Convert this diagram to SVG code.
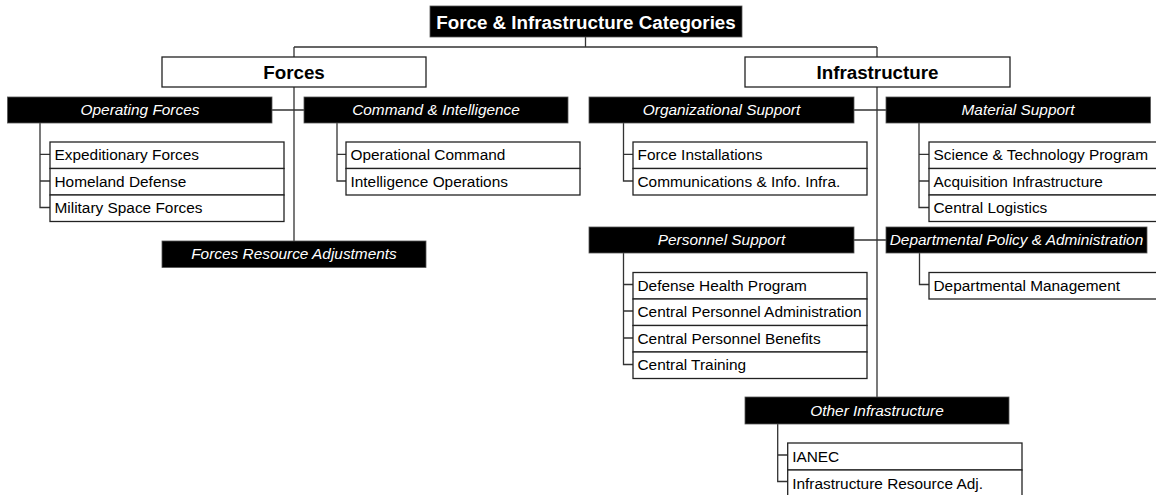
<svg xmlns="http://www.w3.org/2000/svg" width="1156" height="495" viewBox="0 0 1156 495">
<style>
  .bg{fill:#ffffff}
  .blk{fill:#000000;stroke:#555555;stroke-width:0.8}
  .hdr{fill:#ffffff;stroke:#222222;stroke-width:1.3}
  .item{fill:#ffffff;stroke:#222222;stroke-width:1.3}
  .tb{font-family:"Liberation Sans",Arial,sans-serif;font-weight:bold;font-size:18.8px;text-anchor:middle}
  .ti{font-family:"Liberation Sans",Arial,sans-serif;font-style:italic;font-size:15.4px;fill:#ffffff;text-anchor:middle}
  .tr{font-family:"Liberation Sans",Arial,sans-serif;font-size:15.4px;fill:#000000}
  .ln{fill:none;stroke:#333333;stroke-width:1.3}
</style>
<rect class="bg" x="0" y="0" width="1156" height="495"/>

<g id="connectors">
  <path class="ln" d="M585.5,37 V47 M294,47 H877 M294,47 V57 M877,47 V57"/>
  <path class="ln" d="M294,87 V241 M272,110 H304"/>
  <path class="ln" d="M40,123 V207.5 H50 M40,154.3 H50 M40,181 H50"/>
  <path class="ln" d="M337,123 V181 H346 M337,154.3 H346"/>
  <path class="ln" d="M877,87 V397 M854,110 H886 M854,240 H886"/>
  <path class="ln" d="M623.5,123 V181 H633 M623.5,154.3 H633"/>
  <path class="ln" d="M919,123 V207.5 H929 M919,154.3 H929 M919,181 H929"/>
  <path class="ln" d="M623.5,253 V364.5 H633 M623.5,284.5 H633 M623.5,311 H633 M623.5,338 H633"/>
  <path class="ln" d="M919.5,253 V284.5 H929"/>
  <path class="ln" d="M777.7,424 V481.5 H787.7 M777.7,455 H787.7"/>
</g>

<g id="title">
  <rect class="blk" x="430" y="6" width="312" height="31"/>
  <text class="tb" x="586" y="28.5" fill="#ffffff">Force &amp; Infrastructure Categories</text>
</g>

<g id="forces">
  <rect class="hdr" x="162" y="57" width="264" height="30"/>
  <text class="tb" x="294" y="78.5" fill="#000000">Forces</text>
</g>
<g id="infrastructure">
  <rect class="hdr" x="745" y="57" width="265" height="30"/>
  <text class="tb" x="877.5" y="78.5" fill="#000000">Infrastructure</text>
</g>

<g id="operating-forces">
  <rect class="blk" x="7.5" y="97" width="264.5" height="26"/>
  <text class="ti" x="140" y="115">Operating Forces</text>
</g>
<g id="expeditionary-forces">
  <rect class="item" x="50" y="142" width="234" height="26.5"/>
  <text class="tr" x="54.5" y="160.3">Expeditionary Forces</text>
</g>
<g id="homeland-defense">
  <rect class="item" x="50" y="168.5" width="234" height="26.5"/>
  <text class="tr" x="54.5" y="186.8">Homeland Defense</text>
</g>
<g id="military-space-forces">
  <rect class="item" x="50" y="195" width="234" height="26.5"/>
  <text class="tr" x="54.5" y="213.3">Military Space Forces</text>
</g>

<g id="command-intelligence">
  <rect class="blk" x="304" y="97" width="264" height="26"/>
  <text class="ti" x="436" y="115">Command &amp; Intelligence</text>
</g>
<g id="operational-command">
  <rect class="item" x="346" y="142" width="234" height="26.5"/>
  <text class="tr" x="350.5" y="160.3">Operational Command</text>
</g>
<g id="intelligence-operations">
  <rect class="item" x="346" y="168.5" width="234" height="26.5"/>
  <text class="tr" x="350.5" y="186.8">Intelligence Operations</text>
</g>

<g id="forces-resource-adjustments">
  <rect class="blk" x="162" y="241" width="264" height="26.5"/>
  <text class="ti" x="294" y="259.3">Forces Resource Adjustments</text>
</g>

<g id="organizational-support">
  <rect class="blk" x="589" y="97" width="265" height="26"/>
  <text class="ti" x="721.5" y="115">Organizational Support</text>
</g>
<g id="force-installations">
  <rect class="item" x="633" y="142" width="234" height="26.5"/>
  <text class="tr" x="637.5" y="160.3">Force Installations</text>
</g>
<g id="communications-info-infra">
  <rect class="item" x="633" y="168.5" width="234" height="26.5"/>
  <text class="tr" x="637.5" y="186.8">Communications &amp; Info. Infra.</text>
</g>

<g id="material-support">
  <rect class="blk" x="886" y="97" width="264.5" height="26"/>
  <text class="ti" x="1018" y="115">Material Support</text>
</g>
<g id="science-technology-program">
  <rect class="item" x="929" y="142" width="240" height="26.5"/>
  <text class="tr" x="933.5" y="160.3">Science &amp; Technology Program</text>
</g>
<g id="acquisition-infrastructure">
  <rect class="item" x="929" y="168.5" width="240" height="26.5"/>
  <text class="tr" x="933.5" y="186.8">Acquisition Infrastructure</text>
</g>
<g id="central-logistics">
  <rect class="item" x="929" y="195" width="240" height="26.5"/>
  <text class="tr" x="933.5" y="213.3">Central Logistics</text>
</g>

<g id="personnel-support">
  <rect class="blk" x="589" y="227" width="265" height="26"/>
  <text class="ti" x="721.5" y="245">Personnel Support</text>
</g>
<g id="defense-health-program">
  <rect class="item" x="633" y="272.5" width="234" height="26.5"/>
  <text class="tr" x="637.5" y="290.8">Defense Health Program</text>
</g>
<g id="central-personnel-administration">
  <rect class="item" x="633" y="299" width="234" height="26.5"/>
  <text class="tr" x="637.5" y="317.3">Central Personnel Administration</text>
</g>
<g id="central-personnel-benefits">
  <rect class="item" x="633" y="325.5" width="234" height="26.5"/>
  <text class="tr" x="637.5" y="343.8">Central Personnel Benefits</text>
</g>
<g id="central-training">
  <rect class="item" x="633" y="352" width="234" height="26.5"/>
  <text class="tr" x="637.5" y="370.3">Central Training</text>
</g>

<g id="departmental-policy-administration">
  <rect class="blk" x="886" y="227" width="261" height="26"/>
  <text class="ti" x="1016.5" y="245">Departmental Policy &amp; Administration</text>
</g>
<g id="departmental-management">
  <rect class="item" x="929" y="272.5" width="240" height="26.5"/>
  <text class="tr" x="933.5" y="290.8">Departmental Management</text>
</g>

<g id="other-infrastructure">
  <rect class="blk" x="745" y="397" width="264" height="27"/>
  <text class="ti" x="877" y="415.5">Other Infrastructure</text>
</g>
<g id="ianec">
  <rect class="item" x="787.7" y="443" width="234.3" height="27"/>
  <text class="tr" x="792.2" y="461.5">IANEC</text>
</g>
<g id="infrastructure-resource-adj">
  <rect class="item" x="787.7" y="470" width="234.3" height="30"/>
  <text class="tr" x="792.2" y="488.5">Infrastructure Resource Adj.</text>
</g>
</svg>
